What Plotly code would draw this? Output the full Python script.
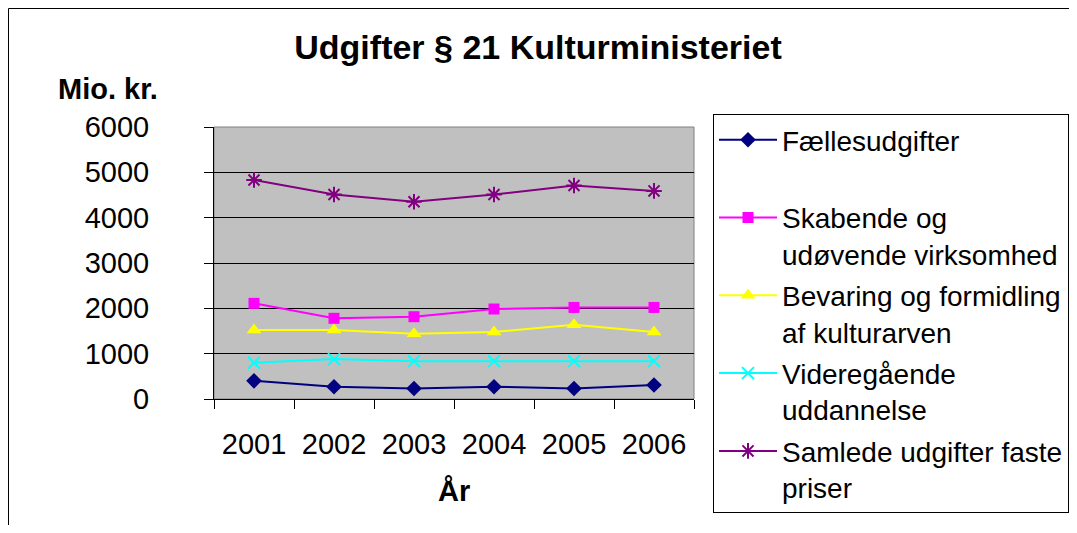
import plotly.graph_objects as go

years = ["2001", "2002", "2003", "2004", "2005", "2006"]
faelles = [400, 270, 230, 270, 230, 310]
skabende = [2110, 1780, 1815, 1985, 2020, 2020]
bevaring = [1520, 1520, 1440, 1480, 1640, 1480]
videre = [800, 880, 835, 835, 835, 835]
samlede = [4830, 4510, 4350, 4510, 4710, 4590]

series_names = [
    "Fællesudgifter<br> ",
    "Skabende og<br>udøvende virksomhed",
    "Bevaring og formidling<br>af kulturarven",
    "Videregående<br>uddannelse",
    "Samlede udgifter faste<br>priser",
]

FONT = "Arial, Liberation Sans, sans-serif"
FS = 29
LFS = 28
OFF = 8  # page body margin
W, H = 1077 - OFF, 533 - 2 * OFF
L, R, T, B = 214 - OFF, 694 - OFF, 127 - OFF, 399 - OFF


def px_x(x):
    return (x - OFF) / W


def px_y(y):
    return 1 - (y - OFF) / H


fig = go.Figure()
styles = [
    (faelles, "#000080", "diamond", 12, 0),
    (skabende, "#FF00FF", "square", 11, 0),
    (bevaring, "#FFFF00", "triangle-up", 13, 0),
    (videre, "#00FFFF", "x-thin-open", 12, 2),
    (samlede, "#800080", "asterisk-open", 13, 2),
]
for i, (name, (vals, col, sym, size, lw)) in enumerate(zip(series_names, styles)):
    marker = dict(symbol=sym, size=size, color=col)
    if lw:
        marker["line"] = dict(color=col, width=lw)
    fig.add_trace(go.Scatter(
        x=years, y=vals, name=name, mode="lines+markers", legendgroup=f"g{i}",
        line=dict(color=col, width=2), marker=marker,
    ))

fig.update_layout(
    width=W, height=H,
    margin=dict(l=0, r=0, t=0, b=0, autoexpand=False),
    paper_bgcolor="white",
    plot_bgcolor="#C0C0C0",
    font=dict(family=FONT, size=FS, color="black"),
    title=dict(text="<b>Udgifter § 21 Kulturministeriet</b>", x=px_x(538), xanchor="center",
               y=px_y(47), yanchor="middle", font=dict(size=34, family=FONT, color="black")),
    showlegend=True,
    legend=dict(
        x=px_x(713), y=px_y(114), xanchor="left", yanchor="top",
        bordercolor="black", borderwidth=1, bgcolor="white",
        font=dict(size=LFS, family=FONT, color="black"),
        valign="top", itemwidth=58, tracegroupgap=2,
    ),
    xaxis=dict(
        domain=[L / W, R / W],
        type="category", range=[-0.5, 5.5], showgrid=False,
        ticks="outside", tickson="boundaries", ticklen=9, tickcolor="black",
        showline=True, linecolor="black", linewidth=1,
        tickfont=dict(size=FS, family=FONT), ticklabelstandoff=19,
    ),
    yaxis=dict(
        domain=[1 - B / H, 1 - T / H],
        range=[0, 6000], dtick=1000, showgrid=True, gridcolor="black", gridwidth=1,
        zeroline=False, ticks="outside", ticklen=9, tickcolor="black",
        showline=True, linecolor="black", linewidth=1,
        tickfont=dict(size=FS, family=FONT), ticklabelstandoff=49,
    ),
    shapes=[
        dict(type="rect", xref="x domain", yref="y domain", x0=0, x1=1, y0=0, y1=1,
             line=dict(color="#808080", width=1), layer="below"),
        dict(type="rect", xref="paper", yref="paper", x0=px_x(8.5), x1=px_x(1100),
             y0=px_y(600), y1=px_y(8.5), line=dict(color="black", width=1)),
    ],
    annotations=[
        dict(text="<b>Mio. kr.</b>", xref="paper", yref="paper", x=px_x(108), y=px_y(89),
             xanchor="center", yanchor="middle", showarrow=False,
             font=dict(size=FS, family=FONT, color="black")),
        dict(text="<b>År</b>", xref="paper", yref="paper", x=px_x(454), y=px_y(491),
             xanchor="center", yanchor="middle", showarrow=False,
             font=dict(size=FS, family=FONT, color="black")),
    ],
)

fig.write_html("out.html")
